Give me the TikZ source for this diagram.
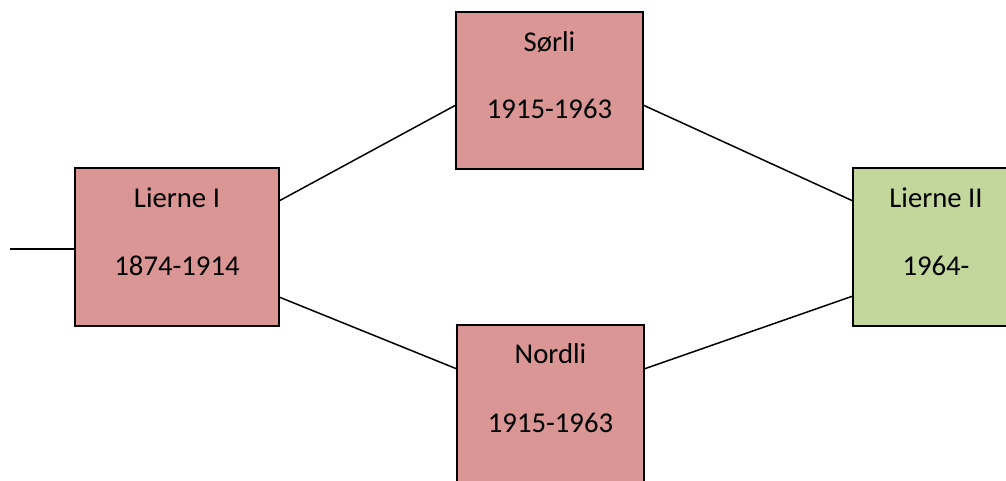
\documentclass[tikz,border=0pt]{standalone}
\usepackage{fontspec}
\setmainfont{Carlito}
\usepackage{tikz}
\usetikzlibrary{positioning}

\definecolor{redbox}{HTML}{D99694}
\definecolor{greenbox}{HTML}{C3D69B}

\tikzset{
  period/.style={draw=black, line width=2pt, inner sep=0pt, outer sep=0pt},
  boxtitle/.style={anchor=base, inner sep=0pt, font=\fontsize{28.7}{34}\selectfont},
  link/.style={line width=1.5pt}
}

\begin{document}
\begin{tikzpicture}[x=1pt,y=1pt]
\useasboundingbox (0,0) rectangle (1006,481);
\clip (0,0) rectangle (1006,481);

\node[period,fill=redbox,minimum width=204pt,minimum height=158pt] (lierneI) at (177,234) {};
\node[period,fill=redbox,minimum width=187pt,minimum height=157pt] (soerli) at (549.5,390.5) {};
\node[period,fill=redbox,minimum width=187pt,minimum height=160pt] (nordli) at (550.5,76) {};
\node[period,fill=greenbox,minimum width=204pt,minimum height=158pt] (lierneII) at (955,234) {};

\node[boxtitle] (lierneIname) at ([yshift=-40pt]lierneI.north) {Lierne I};
\node[boxtitle] (lierneIyear) at ([yshift=-108pt]lierneI.north) {1874-1914};
\node[boxtitle] (soerliname) at ([yshift=-40pt]soerli.north) {Sørli};
\node[boxtitle] (soerliyear) at ([yshift=-107pt]soerli.north) {1915-1963};
\node[boxtitle] (nordliname) at ([yshift=-39pt]nordli.north) {Nordli};
\node[boxtitle] (nordliyear) at ([yshift=-108pt]nordli.north) {1915-1963};
\node[boxtitle] (lierneIIname) at ([xshift=-19pt,yshift=-40pt]lierneII.north) {Lierne II};
\node[boxtitle] (lierneIIyear) at ([xshift=-19pt,yshift=-108pt]lierneII.north) {1964-};

\coordinate (start) at (10,232);
\draw[link] (start) -- (start -| lierneI.west);

\draw[link] ([yshift=46pt]lierneI.east) -- ([yshift=-14.5pt]soerli.west);
\draw[link] ([yshift=-50pt]lierneI.east) -- ([yshift=36pt]nordli.west);
\draw[link] ([yshift=-14.5pt]soerli.east) -- ([yshift=46pt]lierneII.west);
\draw[link] ([yshift=36pt]nordli.east) -- ([yshift=-49pt]lierneII.west);
\end{tikzpicture}
\end{document}
